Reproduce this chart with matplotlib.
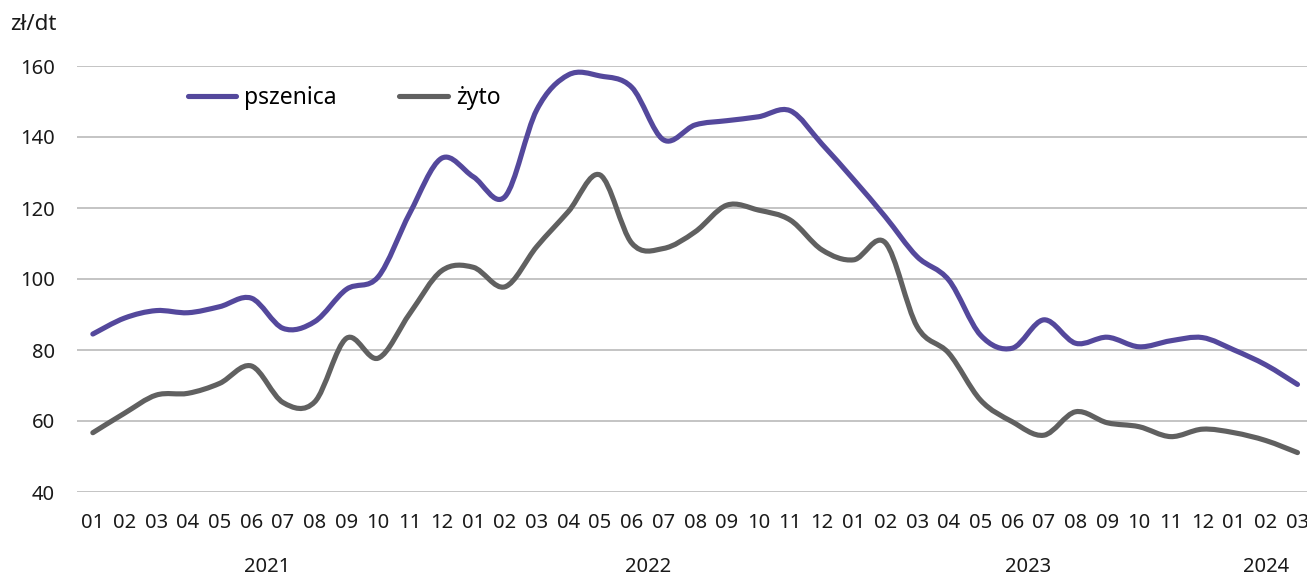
import matplotlib
matplotlib.use("Agg")
import matplotlib.pyplot as plt
import numpy as np
from matplotlib.path import Path
from matplotlib.patches import PathPatch
from matplotlib.lines import Line2D

plt.rcParams['font.family'] = ['Noto Sans', 'DejaVu Sans']

# monthly prices, 2021-01 .. 2024-03 (zł/dt)
months = ["01", "02", "03", "04", "05", "06", "07", "08", "09", "10", "11", "12"] * 3 + ["01", "02", "03"]
years = ["2021", "2022", "2023", "2024"]
year_centers = [5.5, 17.5, 29.5, 37.0]

pszenica = [84.5, 89.0, 91.1, 90.5, 92.2, 94.6, 86.1, 88.0, 97.1, 100.6, 118.6, 134.0,
            128.8, 123.2, 147.6, 157.5, 157.2, 154.0, 139.2, 143.4, 144.6, 145.7, 147.4, 138.0,
            128.0, 117.5, 106.3, 99.7, 84.2, 80.5, 88.5, 81.9, 83.6, 80.9, 82.6, 83.5,
            80.0, 75.8, 70.3]
zyto = [56.7, 62.2, 67.3, 67.8, 70.6, 75.5, 65.2, 65.4, 83.3, 77.7, 90.3, 102.3,
        103.3, 97.8, 109.1, 119.0, 129.3, 110.1, 108.6, 113.3, 120.8, 119.4, 116.6, 108.2,
        105.4, 110.2, 86.6, 79.1, 65.9, 59.8, 56.0, 62.6, 59.5, 58.4, 55.6, 57.7,
        56.7, 54.5, 51.1]

PURPLE = "#54489c"
GREY = "#606060"
LW = 3.7


def smooth_path(xs, ys):
    """Excel-like smoothed line as cubic Bezier path."""
    p = np.column_stack([xs, ys]).astype(float)
    n = len(p)
    verts = [p[0]]
    codes = [Path.MOVETO]
    for i in range(n - 1):
        p0 = p[i - 1] if i > 0 else p[i]
        p3 = p[i + 2] if i + 2 < n else p[i + 1]
        c1 = p[i] + (p[i + 1] - p0) / 6.0
        c2 = p[i + 1] - (p3 - p[i]) / 6.0
        verts += [c1, c2, p[i + 1]]
        codes += [Path.CURVE4] * 3
    return Path(verts, codes)


fig = plt.figure(figsize=(13.07, 5.79), dpi=100)
ax = fig.add_axes([77 / 1307, (579 - 492) / 579, 1230 / 1307, 426 / 579])

x = np.arange(len(months))
for vals, col in [(pszenica, PURPLE), (zyto, GREY)]:
    patch = PathPatch(smooth_path(x, vals), facecolor="none", edgecolor=col,
                      lw=LW, capstyle="round", joinstyle="round", clip_on=False, zorder=3)
    ax.add_patch(patch)

ax.set_xlim(-0.5, 38.3)
ax.set_ylim(40, 160)
ax.set_yticks(np.arange(40, 161, 20))
ax.set_xticks(x)
ax.set_xticklabels(months)
ax.grid(axis="y", color="#bfbfbf", lw=1.3)
ax.set_axisbelow(True)
for s in ax.spines.values():
    s.set_visible(False)
ax.tick_params(axis="both", length=0, labelsize=14.5, colors="#1a1a1a")
ax.tick_params(axis="x", pad=15)
ax.tick_params(axis="y", pad=16)

for yr, xc in zip(years, year_centers):
    ax.text(xc, -0.175, yr, transform=ax.get_xaxis_transform(), ha="center", va="center",
            fontsize=14.5, color="#1a1a1a")

fig.text(10 / 1307, 1 - 25 / 579, "zł/dt", ha="left", va="center", fontsize=16, color="#1a1a1a")

handles = [Line2D([], [], color=PURPLE, lw=LW, solid_capstyle="round"),
           Line2D([], [], color=GREY, lw=LW, solid_capstyle="round")]
ax.legend(handles, ["pszenica", "żyto"], loc="center left", bbox_to_anchor=(0.09, 0.925),
          ncol=2, frameon=False, fontsize=16.5, handlelength=2.1, handletextpad=0.35,
          columnspacing=2.75, borderpad=0, borderaxespad=0)

fig.savefig("out.png", dpi=100)
